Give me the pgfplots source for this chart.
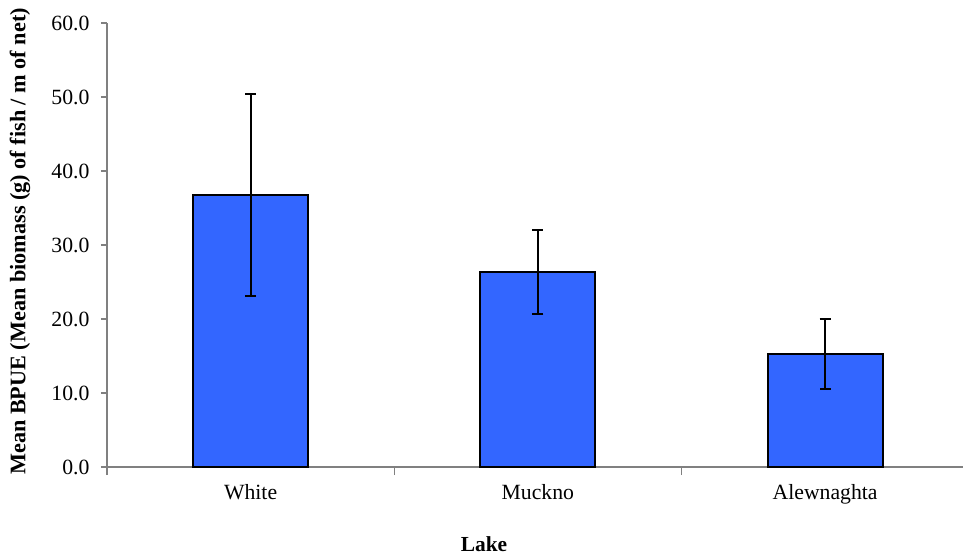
\documentclass[border=0pt]{standalone}
\usepackage{pgfplots}
\pgfplotsset{compat=1.18}
\usepackage{fontspec}
\setmainfont{Liberation Serif}
\definecolor{barblue}{RGB}{51,102,255}
\definecolor{axgray}{RGB}{128,128,128}
\pgfplotstableread{
x val err
0 36.80 13.67
1 26.35 5.65
2 15.31 4.75
}\lakedata
\begin{document}
\begin{tikzpicture}
\begin{axis}[
  scale only axis, width=856bp, height=444bp,
  xmin=-0.5, xmax=2.48, ymin=0, ymax=60,
  axis lines*=left,
  axis line style={axgray, line width=1.2bp},
  tick align=outside, major tick length=6bp,
  ytick={0,10,...,60},
  y tick style={axgray, line width=1.2bp},
  yticklabel style={/pgf/number format/fixed, /pgf/number format/fixed zerofill, /pgf/number format/precision=1, font=\fontsize{21.8}{26}\selectfont, xshift=-8bp},
  /pgf/number format/assume math mode=true,
  xtick={0,1,2}, xticklabels={White,Muckno,Alewnaghta},
  x tick style={draw=none},
  xticklabel style={font=\fontsize{21.8}{26}\selectfont, yshift=-8bp},
  extra x ticks={-0.5,0.5,1.5},
  extra x tick labels={},
  extra x tick style={x tick style={draw=axgray, line width=1.2bp}, major tick length=8bp},
  xlabel={\textbf{Lake}},
  xlabel style={at={(axis description cs:0.4404,-0.1745)}, anchor=center, font=\fontsize{21.5}{25}\selectfont},
  ylabel={\textbf{Mean BPUE (Mean biomass (g) of fish / m of net)}},
  ylabel style={at={(axis description cs:-0.1016,0.508)}, anchor=center, rotate=0, font=\fontsize{22.3}{26}\selectfont},
  clip=false,
]
\addplot[ybar, bar width=0.4, fill=barblue, draw=black, line width=2bp,
  error bars/.cd, y dir=both, y explicit,
  error bar style={line width=2bp, black},
  error mark options={rotate=90, mark size=5.5bp, line width=2bp, black}]
  table[x=x, y=val, y error=err] {\lakedata};
\end{axis}
\pgfresetboundingbox
\path[use as bounding box] ([xshift=-107bp,yshift=-88bp]current axis.south west) rectangle ++(963bp,555bp);
\end{tikzpicture}
\end{document}
